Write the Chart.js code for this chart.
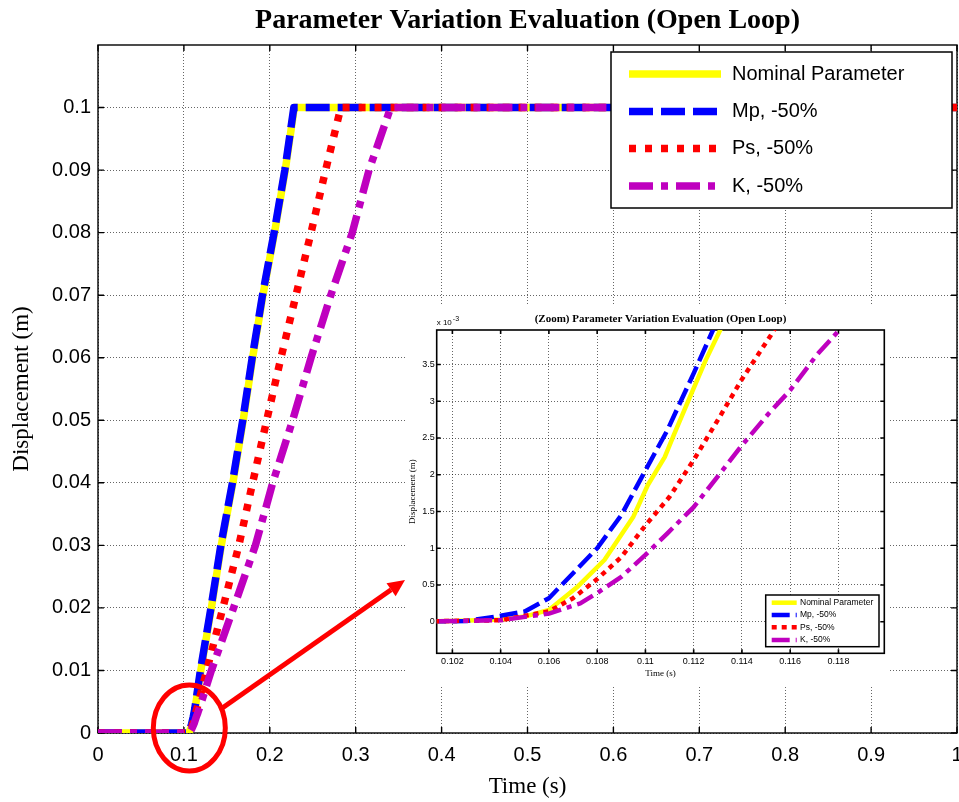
<!DOCTYPE html>
<html>
<head>
<meta charset="utf-8">
<title>Parameter Variation Evaluation (Open Loop)</title>
<script src="https://cdn.jsdelivr.net/npm/chart.js@4.4.0/dist/chart.umd.min.js"></script>
<style>
  html, body { margin: 0; padding: 0; background: #fff; }
  #wrap { position: relative; width: 959px; height: 802px; }
  #main { position: absolute; left: 0; top: 0; }
  #zoom { position: absolute; left: 407px; top: 304px; background: #fff; }
</style>
</head>
<body>
<div id="wrap">
  <canvas id="main" width="959" height="802"></canvas>
  <canvas id="zoom" width="483" height="381"></canvas>
</div>
<script>
// series (time in s, displacement in m)
const seriesNames = ['Nominal Parameter', 'Mp, -50%', 'Ps, -50%', 'K, -50%'];

const nomT = [0, 0.1, 0.102, 0.104, 0.105, 0.106, 0.1072, 0.1083, 0.1095, 0.1101, 0.1108, 0.1112, 0.1119, 0.1125, 0.1131, 0.1197, 0.132, 0.1435, 0.157, 0.169, 0.18, 0.192, 0.2055, 0.218, 0.2285, 1];
const nomY = [0, 0, 0.00001, 0.00003, 0.00007, 0.00016, 0.00048, 0.00084, 0.00143, 0.00186, 0.00224, 0.00256, 0.0031, 0.00356, 0.00397, 0.01, 0.02, 0.03, 0.04, 0.05, 0.06, 0.07, 0.08, 0.09, 0.1, 0.1];

const mpT = [0, 0.1, 0.1026, 0.104, 0.105, 0.106, 0.107, 0.108, 0.109, 0.11, 0.1109, 0.112, 0.1128, 0.1192, 0.1315, 0.143, 0.1565, 0.1685, 0.1795, 0.1915, 0.205, 0.2175, 0.228, 1];
const mpY = [0, 0, 0.00001, 0.00008, 0.00014, 0.00032, 0.00066, 0.001, 0.00145, 0.00206, 0.0026, 0.00338, 0.00397, 0.01, 0.02, 0.03, 0.04, 0.05, 0.06, 0.07, 0.08, 0.09, 0.1, 0.1];

const psT = [0, 0.1, 0.104, 0.106, 0.107, 0.108, 0.109, 0.11, 0.111, 0.112, 0.1131, 0.114, 0.1152, 0.1265, 0.1454, 0.164, 0.18, 0.1964, 0.213, 0.2305, 0.248, 0.265, 0.2827, 1];
const psY = [0, 0, 0.00002, 0.00014, 0.00032, 0.00058, 0.00088, 0.00131, 0.0017, 0.0022, 0.0028, 0.0033, 0.0039, 0.01, 0.02, 0.03, 0.04, 0.05, 0.06, 0.07, 0.08, 0.09, 0.1, 0.1];

const kT = [0, 0.1, 0.104, 0.106, 0.1073, 0.108, 0.109, 0.11, 0.1109, 0.112, 0.1131, 0.114, 0.1151, 0.116, 0.1171, 0.1184, 0.132, 0.1578, 0.1833, 0.2034, 0.2266, 0.248, 0.271, 0.296, 0.3155, 0.3407, 1];
const kY = [0, 0, 0.00002, 0.00011, 0.00025, 0.00039, 0.00061, 0.00091, 0.0012, 0.00156, 0.00202, 0.0024, 0.00283, 0.00315, 0.00363, 0.0041, 0.01, 0.02, 0.03, 0.04, 0.05, 0.06, 0.07, 0.08, 0.09, 0.1, 0.1];

const xTicks = [0, 0.1, 0.2, 0.3, 0.4, 0.5, 0.6, 0.7, 0.8, 0.9, 1];
const yTicks = [0, 0.01, 0.02, 0.03, 0.04, 0.05, 0.06, 0.07, 0.08, 0.09, 0.1];
const zoomXTicks = [0.102, 0.104, 0.106, 0.108, 0.11, 0.112, 0.114, 0.116, 0.118];
const zoomYTicks = [0, 0.0005, 0.001, 0.0015, 0.002, 0.0025, 0.003, 0.0035];

const SANS = "Arial, 'Liberation Sans', sans-serif";
const SERIF = "'Times New Roman', 'Liberation Serif', serif";

function pts(t, y) {
  return t.map((v, i) => ({x: v, y: y[i]}));
}

function makeSets(w, dash) {
  return [
    {label: seriesNames[0], data: pts(nomT, nomY), borderColor: '#ffff00', borderDash: [], order: 4},
    {label: seriesNames[1], data: pts(mpT, mpY), borderColor: '#0000ff', borderDash: dash.mp, order: 3},
    {label: seriesNames[2], data: pts(psT, psY), borderColor: '#ff0000', borderDash: dash.ps, order: 2},
    {label: seriesNames[3], data: pts(kT, kY), borderColor: '#bf00bf', borderDash: dash.k, order: 1},
  ].map(d => Object.assign({
    borderWidth: w, pointRadius: 0, tension: 0, fill: false,
    borderCapStyle: 'butt', borderJoinStyle: 'round'
  }, d));
}

// box, inward ticks and title, matlab style
const framePlugin = {
  id: 'frame',
  beforeDatasetsDraw(chart, args, o) {
    const {ctx, chartArea: a, scales: {x, y}} = chart;
    ctx.save();
    ctx.setLineDash([]);
    ctx.strokeStyle = '#000';
    ctx.lineWidth = o.width;
    ctx.strokeRect(a.left, a.top, a.right - a.left, a.bottom - a.top);
    ctx.beginPath();
    x.ticks.forEach((t, i) => {
      const p = x.getPixelForTick(i);
      ctx.moveTo(p, a.bottom); ctx.lineTo(p, a.bottom - o.tick);
      ctx.moveTo(p, a.top); ctx.lineTo(p, a.top + o.tick);
    });
    y.ticks.forEach((t, i) => {
      const p = y.getPixelForTick(i);
      ctx.moveTo(a.left, p); ctx.lineTo(a.left + o.tick, p);
      ctx.moveTo(a.right, p); ctx.lineTo(a.right - o.tick, p);
    });
    ctx.stroke();
    ctx.restore();
  },
  afterDraw(chart, args, o) {
    const {ctx, chartArea: a} = chart;
    ctx.save();
    ctx.fillStyle = '#000';
    ctx.font = o.titleFont;
    ctx.textAlign = 'center';
    ctx.textBaseline = 'middle';
    ctx.fillText(o.title, (a.left + a.right) / 2, o.titleY);
    if (o.exponent) {
      ctx.textAlign = 'left';
      ctx.font = o.expFont;
      ctx.fillText('x 10', a.left, o.expY);
      const w = ctx.measureText('x 10').width;
      ctx.font = o.supFont;
      ctx.fillText('-3', a.left + w + 1, o.expY - 4);
    }
    ctx.restore();
  }
};

const boxLegend = {
  id: 'boxLegend',
  afterDraw(chart, args, o) {
    const ctx = chart.ctx;
    ctx.save();
    ctx.fillStyle = '#fff';
    ctx.fillRect(o.x, o.y, o.w, o.h);
    ctx.setLineDash([]);
    ctx.strokeStyle = '#000';
    ctx.lineWidth = o.border;
    ctx.strokeRect(o.x, o.y, o.w, o.h);
    ctx.font = o.font;
    ctx.textBaseline = 'middle';
    chart.data.datasets.forEach((ds, i) => {
      const yy = o.rowY[i];
      ctx.strokeStyle = ds.borderColor;
      ctx.lineWidth = ds.borderWidth;
      ctx.lineCap = 'butt';
      ctx.setLineDash(ds.borderDash || []);
      ctx.beginPath();
      ctx.moveTo(o.lineX0, yy);
      ctx.lineTo(o.lineX1, yy);
      ctx.stroke();
      ctx.setLineDash([]);
      ctx.fillStyle = '#000';
      ctx.fillText(ds.label, o.textX, yy);
    });
    ctx.restore();
  }
};

// red ellipse round the start of the rise and the arrow to the zoom
const markPlugin = {
  id: 'mark',
  afterDraw(chart) {
    const {ctx, scales: {x, y}} = chart;
    const cx = x.getPixelForValue(0.1063), cy = y.getPixelForValue(0.0008);
    ctx.save();
    ctx.strokeStyle = '#ff0000';
    ctx.fillStyle = '#ff0000';
    ctx.lineWidth = 5;
    ctx.setLineDash([]);
    ctx.beginPath();
    ctx.ellipse(cx, cy, 36, 43, 0, 0, Math.PI * 2);
    ctx.stroke();
    const x0 = cx + 33, y0 = cy - 20, x1 = 405, y1 = 580;
    const ang = Math.atan2(y1 - y0, x1 - x0);
    const hl = 17, hw = 8;
    const bx = x1 - hl * Math.cos(ang), by = y1 - hl * Math.sin(ang);
    ctx.beginPath();
    ctx.moveTo(x0, y0);
    ctx.lineTo(bx, by);
    ctx.stroke();
    ctx.beginPath();
    ctx.moveTo(x1, y1);
    ctx.lineTo(bx + hw * Math.sin(ang), by - hw * Math.cos(ang));
    ctx.lineTo(bx - hw * Math.sin(ang), by + hw * Math.cos(ang));
    ctx.closePath();
    ctx.fill();
    ctx.restore();
  }
};

const gridDots = {color: 'rgba(0,0,0,0.6)', lineWidth: 1, drawTicks: false};

new Chart(document.getElementById('main'), {
  type: 'line',
  data: {datasets: makeSets(7.5, {mp: [24, 8], ps: [7, 9], k: [24, 8, 7, 8]})},
  options: {
    responsive: false,
    animation: false,
    devicePixelRatio: 1,
    events: [],
    layout: {padding: {top: 45, right: 2, left: 0, bottom: 0}},
    plugins: {
      legend: {display: false},
      tooltip: {enabled: false},
      frame: {width: 1.4, tick: 6, title: 'Parameter Variation Evaluation (Open Loop)',
              titleFont: 'bold 28px ' + SERIF, titleY: 21},
      boxLegend: {x: 611, y: 52, w: 341, h: 156, border: 1.5, font: '20px ' + SANS,
                  rowY: [74, 111.5, 148.5, 186], lineX0: 629, lineX1: 721, textX: 732}
    },
    scales: {
      x: {
        type: 'linear', min: 0, max: 1,
        afterBuildTicks: s => { s.ticks = xTicks.map(v => ({value: v})); },
        afterFit: s => { s.height = 69; s.paddingLeft = 0; s.paddingRight = 0; },
        grid: gridDots,
        border: {display: false, dash: [1, 2]},
        ticks: {color: '#000', font: {family: SANS, size: 20}, padding: 10, maxRotation: 0,
                callback: v => String(v)},
        title: {display: true, text: 'Time (s)', color: '#000',
                font: {family: SERIF, size: 23}, padding: {top: 0, bottom: 1}}
      },
      y: {
        type: 'linear', min: 0, max: 0.11,
        afterBuildTicks: s => { s.ticks = yTicks.map(v => ({value: v})); },
        afterFit: s => { s.width = 98; s.paddingTop = 0; s.paddingBottom = 0; },
        grid: gridDots,
        border: {display: false, dash: [1, 2]},
        ticks: {color: '#000', font: {family: SANS, size: 20}, padding: 7,
                callback: v => String(v)},
        title: {display: true, text: 'Displacement (m)', color: '#000',
                font: {family: SERIF, size: 23}, padding: {top: 8, bottom: 0}}
      }
    }
  },
  plugins: [framePlugin, markPlugin, boxLegend]
});

new Chart(document.getElementById('zoom'), {
  type: 'line',
  data: {datasets: makeSets(4.5, {mp: [18, 6], ps: [5, 5], k: [18, 6, 5, 6]})},
  options: {
    responsive: false,
    animation: false,
    devicePixelRatio: 1,
    events: [],
    layout: {padding: {top: 26, right: 5.7, left: 0, bottom: 0}},
    plugins: {
      legend: {display: false},
      tooltip: {enabled: false},
      frame: {width: 1.6, tick: 4, title: '(Zoom) Parameter Variation Evaluation (Open Loop)',
              titleFont: 'bold 11px ' + SERIF, titleY: 15,
              exponent: true, expFont: '8px ' + SANS, supFont: '7px ' + SANS, expY: 19},
      boxLegend: {x: 358.7, y: 291, w: 113.3, h: 51.7, border: 1.5, font: '8.5px ' + SANS,
                  rowY: [298.7, 311, 323.3, 336], lineX0: 364.7, lineX1: 389.7, textX: 393}
    },
    scales: {
      x: {
        type: 'linear', min: 0.10135, max: 0.1199,
        afterBuildTicks: s => { s.ticks = zoomXTicks.map(v => ({value: v})); },
        afterFit: s => { s.height = 31.7; s.paddingLeft = 0; s.paddingRight = 0; },
        grid: gridDots,
        border: {display: false, dash: [1, 2]},
        ticks: {color: '#000', font: {family: SANS, size: 9}, padding: 3, maxRotation: 0,
                callback: v => String(v)},
        title: {display: true, text: 'Time (s)', color: '#000',
                font: {family: SERIF, size: 9}, padding: {top: 0, bottom: 6}}
      },
      y: {
        type: 'linear', min: -0.00043, max: 0.00397,
        afterBuildTicks: s => { s.ticks = zoomYTicks.map(v => ({value: v})); },
        afterFit: s => { s.width = 29.7; s.paddingTop = 0; s.paddingBottom = 0; },
        grid: gridDots,
        border: {display: false, dash: [1, 2]},
        ticks: {color: '#000', font: {family: SANS, size: 9}, padding: 2,
                callback: v => String(+(v * 1000).toFixed(1))},
        title: {display: true, text: 'Displacement (m)', color: '#000',
                font: {family: SERIF, size: 9}, padding: {top: 0.6, bottom: 0}}
      }
    }
  },
  plugins: [framePlugin, boxLegend]
});
</script>
</body>
</html>
